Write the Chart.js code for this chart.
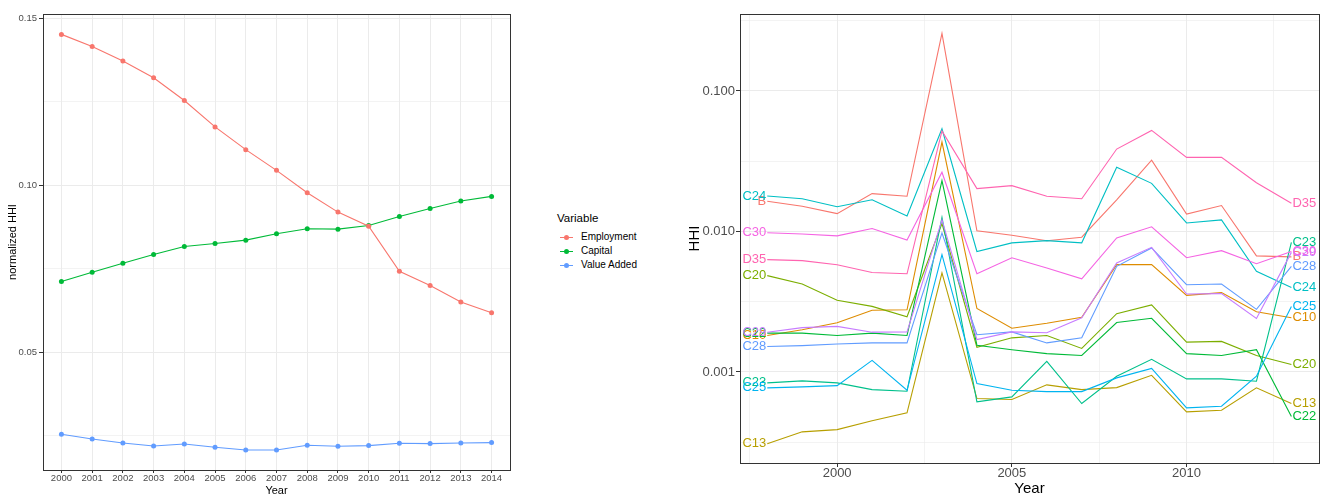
<!DOCTYPE html>
<html>
<head>
<meta charset="utf-8">
<script src="https://cdn.jsdelivr.net/npm/chart.js@4.4.1/dist/chart.umd.min.js"></script>
<style>
  body { margin: 0; background: #fff; font-family: "Liberation Sans", Arial, sans-serif; }
  #wrap { position: relative; width: 1330px; height: 495px; overflow: hidden; background: #fff; }
  canvas { position: absolute; top: 0; }
  #leftChart { left: 0; }
  #rightChart { left: 660px; }
  #legend { position: absolute; left: 557px; top: 0; }
  #legend .title { position: absolute; top: 211px; left: 0; font-size: 11.5px; line-height: 14px; color: #000; white-space: nowrap; }
  #legend .item { position: absolute; left: 0; height: 14px; width: 120px; }
  #legend .ln { position: absolute; left: 3px; top: 6.5px; width: 13px; height: 1px; }
  #legend .dot { position: absolute; left: 7px; top: 4.5px; width: 5px; height: 5px; border-radius: 50%; }
  #legend .txt { position: absolute; left: 24px; top: 0; font-size: 10px; line-height: 14px; color: #000; white-space: nowrap; }
</style>
</head>
<body>
<div id="wrap">
  <canvas id="leftChart" width="530" height="495"></canvas>
  <div id="legend"><div class="title">Variable</div></div>
  <canvas id="rightChart" width="670" height="495"></canvas>
</div>
<script>
// Left panel: normalized HHI by variable
const years = [2000, 2001, 2002, 2003, 2004, 2005, 2006, 2007, 2008, 2009, 2010, 2011, 2012, 2013, 2014];
const employment = [0.1452, 0.1416, 0.1372, 0.1322, 0.1254, 0.1175, 0.1107, 0.1045, 0.0978, 0.0920, 0.0878, 0.0743, 0.0700, 0.0651, 0.0619];
const capital = [0.0712, 0.0740, 0.0767, 0.0793, 0.0817, 0.0826, 0.0836, 0.0855, 0.0870, 0.0869, 0.0880, 0.0907, 0.0931, 0.0953, 0.0967];
const valueAdded = [0.0255, 0.0241, 0.0229, 0.0220, 0.0226, 0.0216, 0.0208, 0.0208, 0.0222, 0.0219, 0.0221, 0.0228, 0.0227, 0.0229, 0.0230];
const variableNames = ['Employment', 'Capital', 'Value Added'];
const variableColors = ['#F8766D', '#00BA38', '#619CFF'];
const leftMajorTicks = [0.05, 0.10, 0.15];
const leftMinorTicks = [0.025, 0.075, 0.125];

// Right panel: HHI by sector (log scale)
const years2 = [1998, 1999, 2000, 2001, 2002, 2003, 2004, 2005, 2006, 2007, 2008, 2009, 2010, 2011, 2012, 2013];
const hhiB = [0.0164, 0.0151, 0.0134, 0.0186, 0.0178, 0.257, 0.0101, 0.0094, 0.0086, 0.0091, 0.0168, 0.0322, 0.0133, 0.0153, 0.0067, 0.0066];
const hhiC10 = [0.00182, 0.00200, 0.00224, 0.00275, 0.00277, 0.0433, 0.00283, 0.00205, 0.00222, 0.00245, 0.00581, 0.00581, 0.00351, 0.00367, 0.00268, 0.00243];
const hhiC13 = [0.000308, 0.000375, 0.000389, 0.000449, 0.000512, 0.00507, 0.000647, 0.000637, 0.000810, 0.000749, 0.000774, 0.000947, 0.000520, 0.000534, 0.000771, 0.000596];
const hhiC20 = [0.00485, 0.00423, 0.00324, 0.00293, 0.00247, 0.0114, 0.00150, 0.00175, 0.00182, 0.00147, 0.00260, 0.00300, 0.00163, 0.00165, 0.00131, 0.00113];
const hhiC22 = [0.00189, 0.00189, 0.00182, 0.00189, 0.00182, 0.0230, 0.00155, 0.00144, 0.00135, 0.00131, 0.00225, 0.00241, 0.00135, 0.00131, 0.00144, 0.000482];
const hhiC23 = [0.000837, 0.000865, 0.000837, 0.000749, 0.000729, 0.0126, 0.000613, 0.000665, 0.00119, 0.000596, 0.000932, 0.00123, 0.000893, 0.000893, 0.000859, 0.00837];
const hhiC24 = [0.0179, 0.0171, 0.0150, 0.0168, 0.0129, 0.0538, 0.0072, 0.0083, 0.0086, 0.0083, 0.0286, 0.0220, 0.0115, 0.0121, 0.0052, 0.0040];
const hhiC25 = [0.000771, 0.000783, 0.000800, 0.00121, 0.000741, 0.00684, 0.000827, 0.000741, 0.000725, 0.000725, 0.000908, 0.00106, 0.000555, 0.000570, 0.000932, 0.00293];
const hhiC28 = [0.00152, 0.00154, 0.00158, 0.00161, 0.00161, 0.00976, 0.00184, 0.00193, 0.00161, 0.00175, 0.00565, 0.00763, 0.00418, 0.00423, 0.00279, 0.00565];
const hhiC29 = [0.00192, 0.00207, 0.00211, 0.00192, 0.00193, 0.0121, 0.00170, 0.00193, 0.00190, 0.00243, 0.00597, 0.00771, 0.00359, 0.00361, 0.00240, 0.00710];
const hhiC30 = [0.0098, 0.0096, 0.0093, 0.0105, 0.0087, 0.0264, 0.0050, 0.0065, 0.0055, 0.0046, 0.0090, 0.0108, 0.0065, 0.0073, 0.0059, 0.0072];
const hhiD35 = [0.0063, 0.0062, 0.0058, 0.0051, 0.0050, 0.0519, 0.0202, 0.0212, 0.0178, 0.0171, 0.0386, 0.0524, 0.0337, 0.0337, 0.0222, 0.0159];
const sectors = ['B', 'C10', 'C13', 'C20', 'C22', 'C23', 'C24', 'C25', 'C28', 'C29', 'C30', 'D35'];
const sectorValues = [hhiB, hhiC10, hhiC13, hhiC20, hhiC22, hhiC23, hhiC24, hhiC25, hhiC28, hhiC29, hhiC30, hhiD35];
const sectorColors = ['#F8766D', '#DE8C00', '#B79F00', '#7CAE00', '#00BA38', '#00C08B', '#00BFC4', '#00B4F0', '#619CFF', '#C77CFF', '#F564E3', '#FF64B0'];
const rightMajorYTicks = [0.001, 0.01, 0.1];
const rightMinorYTicks = [0.000316, 0.00316, 0.0316, 0.316];
const rightMajorXTicks = [2000, 2005, 2010];
const rightMinorXTicks = [1997.5, 2002.5, 2007.5, 2012.5];

const FONT = '"Liberation Sans", Arial, sans-serif';
const GRID = '#EBEBEB';
const TICK_TEXT = '#4D4D4D';

// box around the plot area, like theme_bw
const panelBorder = {
    id: 'panelBorder',
    afterDraw(chart) {
        const a = chart.chartArea;
        const ctx = chart.ctx;
        ctx.save();
        ctx.strokeStyle = '#333333';
        ctx.lineWidth = 1;
        ctx.strokeRect(Math.round(a.left) + 0.5, Math.round(a.top) + 0.5,
            Math.round(a.right - a.left), Math.round(a.bottom - a.top));
        ctx.restore();
    }
};

// direct labels at first and last points
const endLabels = {
    id: 'endLabels',
    afterDatasetsDraw(chart) {
        const ctx = chart.ctx;
        ctx.save();
        ctx.font = '13px ' + FONT;
        ctx.textBaseline = 'middle';
        chart.data.datasets.forEach(function (ds, i) {
            const pts = chart.getDatasetMeta(i).data;
            const first = pts[0];
            const last = pts[pts.length - 1];
            ctx.fillStyle = ds.borderColor;
            ctx.textAlign = 'right';
            ctx.fillText(ds.label, first.x - 1, first.y);
            ctx.textAlign = 'left';
            ctx.fillText(ds.label, last.x + 1, last.y);
        });
        ctx.restore();
    }
};

function toPoints(xs, ys) {
    return xs.map(function (x, i) { return { x: x, y: ys[i] }; });
}

// legend for the left panel
function buildLegend() {
    const legend = document.getElementById('legend');
    variableNames.forEach(function (name, i) {
        const row = document.createElement('div');
        row.className = 'item';
        row.style.top = (230 + i * 14) + 'px';
        row.innerHTML = '<i class="ln" style="background:' + variableColors[i] + '"></i>' +
            '<i class="dot" style="background:' + variableColors[i] + '"></i>' +
            '<span class="txt">' + name + '</span>';
        legend.appendChild(row);
    });
}

function drawLeftChart() {
    const series = [employment, capital, valueAdded];
    const data = {
        datasets: series.map(function (vals, i) {
            return {
                label: variableNames[i],
                data: toPoints(years, vals),
                borderColor: variableColors[i],
                backgroundColor: variableColors[i],
                borderWidth: 1.1,
                pointRadius: 2.5,
                pointBorderWidth: 0,
                pointBackgroundColor: variableColors[i],
                fill: false,
                tension: 0
            };
        })
    };

    const config = {
        type: 'line',
        data: data,
        options: {
            responsive: false,
            animation: false,
            devicePixelRatio: 1,
            layout: { padding: { top: 14, right: 20, left: 0, bottom: 0 } },
            scales: {
                x: {
                    type: 'linear',
                    min: 1999.4,
                    max: 2014.6,
                    afterBuildTicks: function (scale) {
                        scale.ticks = years.map(function (v) { return { value: v }; });
                    },
                    afterFit: function (scale) { scale.height = 25; },
                    ticks: {
                        autoSkip: false,
                        maxRotation: 0,
                        padding: 0,
                        color: TICK_TEXT,
                        font: { family: FONT, size: 9.5, lineHeight: 1.2 },
                        callback: function (v) { return String(v); }
                    },
                    grid: { color: GRID, lineWidth: 1, tickLength: 3, tickColor: '#333333' },
                    border: { display: false },
                    title: {
                        display: true, text: 'Year', color: '#000',
                        font: { family: FONT, size: 11, lineHeight: 0.8 },
                        padding: { top: 0, bottom: 0 }
                    }
                },
                y: {
                    min: 0.0148,
                    max: 0.1513,
                    afterBuildTicks: function (scale) {
                        const all = leftMinorTicks.concat(leftMajorTicks).sort(function (a, b) { return a - b; });
                        scale.ticks = all.map(function (v) { return { value: v }; });
                    },
                    afterFit: function (scale) { scale.width = 43; },
                    ticks: {
                        padding: 2,
                        color: TICK_TEXT,
                        font: { family: FONT, size: 9.5 },
                        callback: function (v) { return leftMajorTicks.includes(v) ? v.toFixed(2) : ''; }
                    },
                    grid: {
                        color: GRID,
                        lineWidth: function (ctx) { return ctx.tick && leftMajorTicks.includes(ctx.tick.value) ? 1 : 0.6; },
                        tickLength: 4,
                        tickColor: function (ctx) { return ctx.tick && leftMajorTicks.includes(ctx.tick.value) ? '#333333' : 'rgba(0,0,0,0)'; }
                    },
                    border: { display: false },
                    title: {
                        display: true, text: 'normalized HHI', color: '#000',
                        font: { family: FONT, size: 11, lineHeight: 1.2 },
                        padding: { top: 6.5, bottom: 0 }
                    }
                }
            },
            plugins: {
                legend: { display: false },
                tooltip: { enabled: false }
            }
        },
        plugins: [panelBorder]
    };
    new Chart(document.getElementById('leftChart'), config);
}

function drawRightChart() {
    const data = {
        datasets: sectors.map(function (name, i) {
            return {
                label: name,
                data: toPoints(years2, sectorValues[i]),
                borderColor: sectorColors[i],
                backgroundColor: sectorColors[i],
                borderWidth: 1.1,
                pointRadius: 0,
                fill: false,
                tension: 0,
                order: sectors.length - i
            };
        })
    };

    const config = {
        type: 'line',
        data: data,
        options: {
            responsive: false,
            animation: false,
            devicePixelRatio: 1,
            layout: { padding: { top: 14, right: 11, left: 0, bottom: 0 } },
            scales: {
                x: {
                    type: 'linear',
                    min: 1997.22,
                    max: 2013.79,
                    afterBuildTicks: function (scale) {
                        const all = rightMinorXTicks.concat(rightMajorXTicks).sort(function (a, b) { return a - b; });
                        scale.ticks = all.map(function (v) { return { value: v }; });
                    },
                    afterFit: function (scale) { scale.height = 32; },
                    ticks: {
                        autoSkip: false,
                        maxRotation: 0,
                        padding: 0,
                        color: TICK_TEXT,
                        font: { family: FONT, size: 13, lineHeight: 1 },
                        callback: function (v) { return rightMajorXTicks.includes(v) ? String(v) : ''; }
                    },
                    grid: {
                        color: GRID,
                        lineWidth: function (ctx) { return ctx.tick && rightMajorXTicks.includes(ctx.tick.value) ? 1 : 0.6; },
                        tickLength: 4,
                        tickColor: function (ctx) { return ctx.tick && rightMajorXTicks.includes(ctx.tick.value) ? '#333333' : 'rgba(0,0,0,0)'; }
                    },
                    border: { display: false },
                    title: {
                        display: true, text: 'Year', color: '#000',
                        font: { family: FONT, size: 15, lineHeight: 0.8 },
                        padding: { top: 0, bottom: 0 }
                    }
                },
                y: {
                    type: 'logarithmic',
                    min: 0.000225,
                    max: 0.353,
                    afterBuildTicks: function (scale) {
                        const all = rightMinorYTicks.concat(rightMajorYTicks).sort(function (a, b) { return a - b; });
                        scale.ticks = all.map(function (v) { return { value: v }; });
                    },
                    afterFit: function (scale) { scale.width = 80; },
                    ticks: {
                        padding: 1,
                        color: TICK_TEXT,
                        font: { family: FONT, size: 13 },
                        callback: function (v) { return rightMajorYTicks.includes(v) ? v.toFixed(3) : ''; }
                    },
                    grid: {
                        color: GRID,
                        lineWidth: function (ctx) { return ctx.tick && rightMajorYTicks.includes(ctx.tick.value) ? 1 : 0.6; },
                        tickLength: 4,
                        tickColor: function (ctx) { return ctx.tick && rightMajorYTicks.includes(ctx.tick.value) ? '#333333' : 'rgba(0,0,0,0)'; }
                    },
                    border: { display: false },
                    title: {
                        display: true, text: 'HHI', color: '#000',
                        font: { family: FONT, size: 15, lineHeight: 1.2 },
                        padding: { top: 26, bottom: 0 }
                    }
                }
            },
            plugins: {
                legend: { display: false },
                tooltip: { enabled: false }
            }
        },
        plugins: [panelBorder, endLabels]
    };
    new Chart(document.getElementById('rightChart'), config);
}

buildLegend();
drawLeftChart();
drawRightChart();
</script>
</body>
</html>
